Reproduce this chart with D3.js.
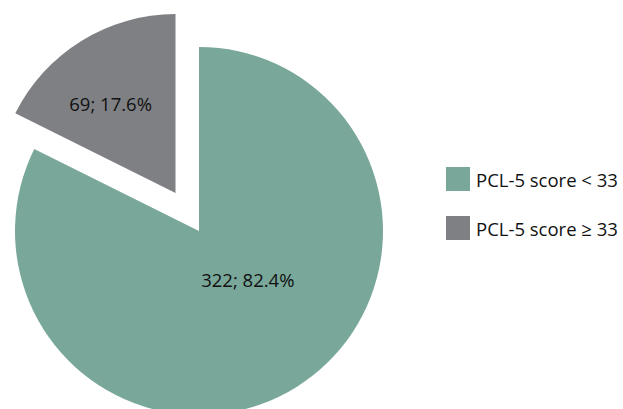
<!DOCTYPE html>
<html>
<head>
<meta charset="utf-8">
<script src="https://cdn.jsdelivr.net/npm/d3@7"></script>
<style>
  body { margin: 0; background: #fff; }
  text { font-family: "Open Sans", "Noto Sans", sans-serif; fill: #111; }
</style>
</head>
<body>
<script>
// data
var categories = ["PCL-5 score < 33", "PCL-5 score \u2265 33"];
var counts = [322, 69];
var percents = [82.4, 17.6];
var colors = ["#79a89a", "#7f8084"];

window.onload = function(){

    var w = 623, h = 409;
    var cx = 199, cy = 231, r = 184;

    var svg = d3.select("body")
        .append("svg")
        .attr("width", w)
        .attr("height", h);

    var pie = d3.pie().sort(null).value(function(d){ return d; });
    var slices = pie(counts);

    var arc = d3.arc().innerRadius(0);
    var labelArc = d3.arc().innerRadius(0);

    var g = svg.append("g").attr("transform", "translate(" + cx + "," + cy + ")");

    // exploded smaller slice
    function offset(d, i){
        if (i === 0) return [0, 0];
        var a = (d.startAngle + d.endAngle) / 2;
        return [Math.sin(a) * 44.6, -Math.cos(a) * 44.6];
    }
    function rad(i){ return i === 0 ? r : 179; }

    g.selectAll("path")
        .data(slices)
        .enter()
        .append("path")
        .attr("transform", function(d, i){ var o = offset(d, i); return "translate(" + o[0] + "," + o[1] + ")"; })
        .attr("d", function(d, i){ return arc.outerRadius(rad(i))(d); })
        .attr("fill", function(d, i){ return colors[i]; });

    g.selectAll("text.lbl")
        .data(slices)
        .enter()
        .append("text")
        .attr("class", "lbl")
        .attr("text-anchor", "middle")
        .attr("font-size", 18.5)
        .attr("transform", function(d, i){
            var o = offset(d, i);
            var lr = i === 0 ? 140 : 220;
            var c = labelArc.outerRadius(lr).centroid(d);
            var nudge = i === 0 ? [12, -10] : [-7, 5];
            return "translate(" + (o[0] + c[0] + nudge[0]) + "," + (o[1] + c[1] + 6 + nudge[1]) + ")";
        })
        .text(function(d, i){ return counts[i] + "; " + percents[i] + "%"; });

    // legend
    var legend = svg.append("g").attr("transform", "translate(446,167)");
    var item = legend.selectAll("g")
        .data(categories)
        .enter()
        .append("g")
        .attr("transform", function(d, i){ return "translate(0," + (i * 49) + ")"; });

    item.append("rect")
        .attr("width", 24)
        .attr("height", 24)
        .attr("fill", function(d, i){ return colors[i]; });

    item.append("text")
        .attr("x", 30)
        .attr("y", 20)
        .attr("font-size", 18.5)
        .text(function(d){ return d; });
}
</script>
</body>
</html>
